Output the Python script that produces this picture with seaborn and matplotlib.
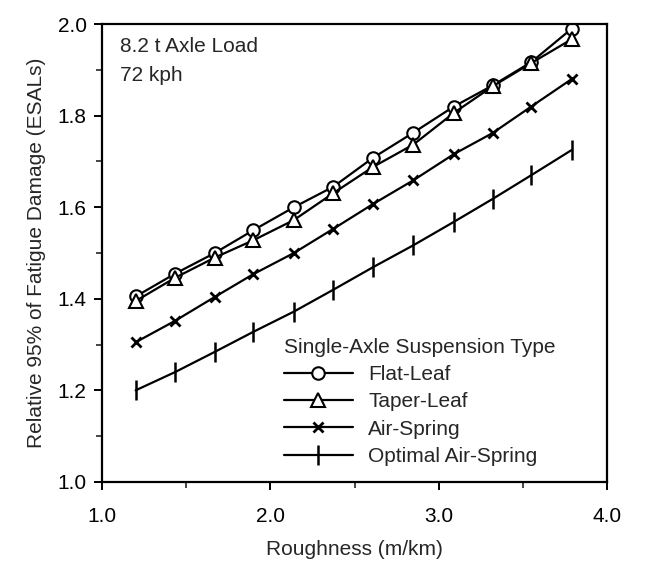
import pandas as pd
import matplotlib
matplotlib.use("Agg")
import matplotlib.pyplot as plt
import seaborn as sns
from matplotlib.ticker import MultipleLocator, FormatStrFormatter

# Data
roughness = [1.20, 1.435, 1.67, 1.90, 2.14, 2.375, 2.61, 2.85, 3.09, 3.32, 3.55, 3.79]
flat_leaf = [1.405, 1.455, 1.50, 1.55, 1.60, 1.645, 1.708, 1.763, 1.82, 1.866, 1.917, 1.99]
taper_leaf = [1.395, 1.446, 1.49, 1.528, 1.572, 1.631, 1.688, 1.737, 1.806, 1.864, 1.915, 1.967]
air_spring = [1.305, 1.352, 1.404, 1.454, 1.50, 1.553, 1.607, 1.659, 1.716, 1.762, 1.82, 1.88]
optimal_air = [1.20, 1.24, 1.284, 1.328, 1.372, 1.42, 1.469, 1.517, 1.568, 1.618, 1.670, 1.725]

series_names = ["Flat-Leaf", "Taper-Leaf", "Air-Spring", "Optimal Air-Spring"]
series_values = [flat_leaf, taper_leaf, air_spring, optimal_air]

sns.set_style("ticks")
plt.rcParams["font.family"] = ["Liberation Sans", "DejaVu Sans"]
fs = 15

fig = plt.figure(figsize=(6.62, 5.61), dpi=100)
ax = fig.add_axes([0.154, 0.141, 0.763, 0.816])

markers = {
    "Flat-Leaf": dict(marker="o", markersize=9, markerfacecolor="white", markeredgewidth=1.5),
    "Taper-Leaf": dict(marker="^", markersize=9.5, markerfacecolor="white", markeredgewidth=1.5),
    "Air-Spring": dict(marker="x", markersize=6.5, markeredgewidth=2.0),
    "Optimal Air-Spring": dict(marker="|", markersize=14, markeredgewidth=1.8),
}

for name, vals in zip(series_names, series_values):
    df = pd.DataFrame({"Roughness": roughness, "Damage": vals})
    sns.lineplot(data=df, x="Roughness", y="Damage", ax=ax, color="black",
                 linewidth=1.6, label=name, markeredgecolor="black",
                 **markers[name])

ax.set_xlim(1.0, 4.0)
ax.set_ylim(1.0, 2.0)
ax.xaxis.set_major_locator(MultipleLocator(1.0))
ax.xaxis.set_minor_locator(MultipleLocator(0.5))
ax.yaxis.set_major_locator(MultipleLocator(0.2))
ax.yaxis.set_minor_locator(MultipleLocator(0.1))
ax.xaxis.set_major_formatter(FormatStrFormatter("%.1f"))
ax.yaxis.set_major_formatter(FormatStrFormatter("%.1f"))
ax.tick_params(which="major", direction="out", length=6, width=1.4, labelsize=fs, colors="black")
ax.tick_params(axis="x", which="major", pad=12)
ax.tick_params(axis="y", which="major", pad=5)
ax.tick_params(which="minor", direction="out", length=4, width=1.2)
for sp in ax.spines.values():
    sp.set_visible(True)
    sp.set_linewidth(1.6)
    sp.set_color("black")

ax.set_xlabel("Roughness (m/km)", fontsize=fs, labelpad=10)
ax.set_ylabel("Relative 95% of Fatigue Damage (ESALs)", fontsize=fs, labelpad=8)

ax.text(0.035, 0.972, "8.2 t Axle Load\n72 kph", transform=ax.transAxes,
        ha="left", va="top", fontsize=fs, linespacing=1.65)

leg = ax.legend(title="Single-Axle Suspension Type", loc="lower left",
                bbox_to_anchor=(0.36, 0.035), frameon=False, fontsize=fs,
                title_fontsize=fs, handlelength=3.3, handletextpad=0.75,
                labelspacing=0.4, borderpad=0, borderaxespad=0, alignment="left")

fig.savefig("out.png", dpi=100)
